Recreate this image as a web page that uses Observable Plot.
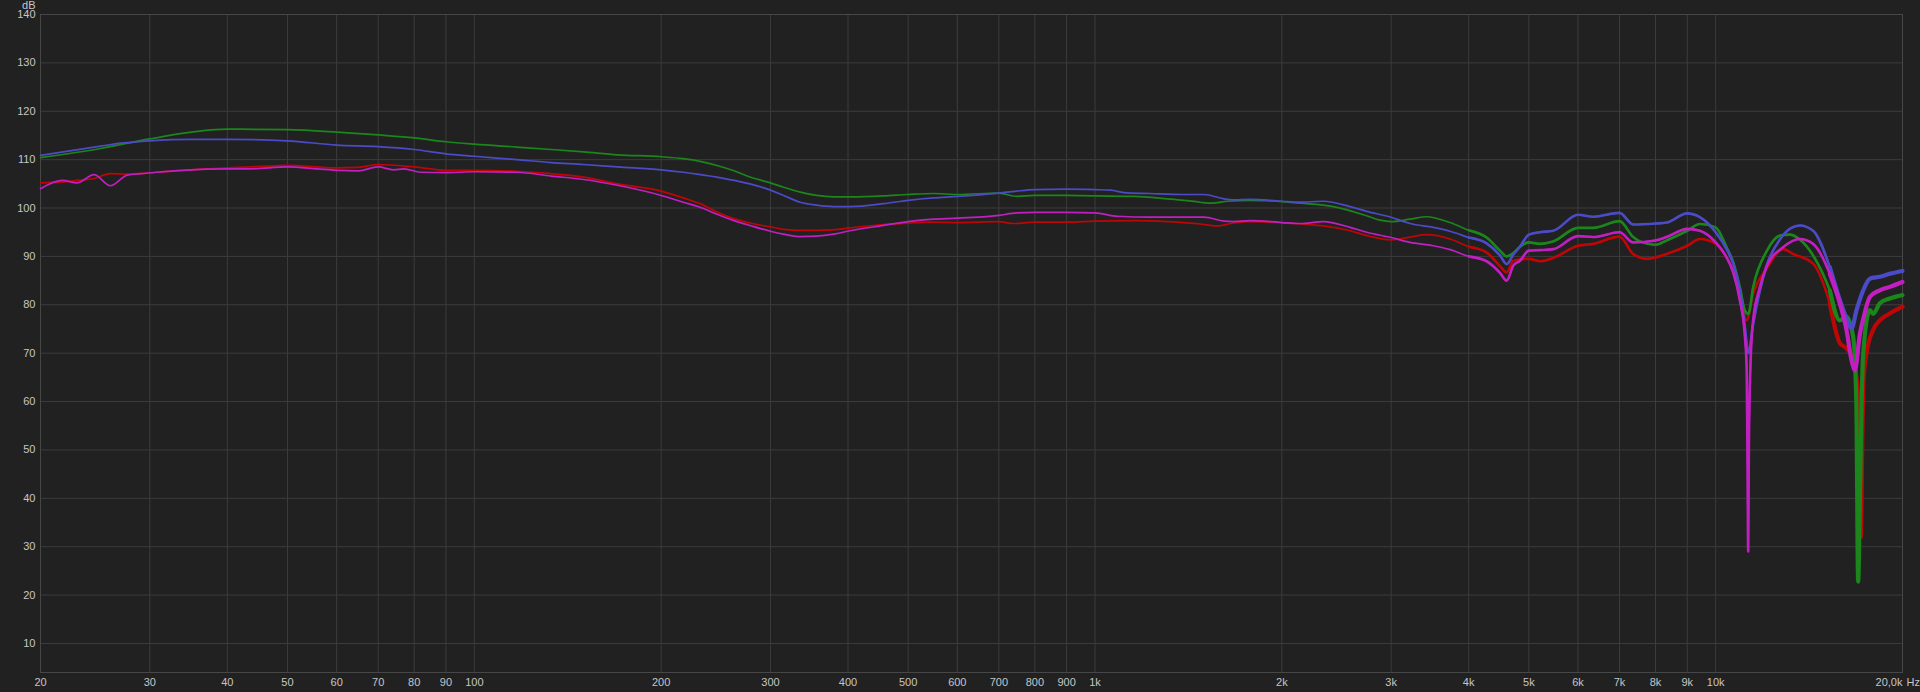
<!DOCTYPE html>
<html>
<head>
<meta charset="utf-8">
<script src="https://cdn.jsdelivr.net/npm/d3@7"></script>
<script src="https://cdn.jsdelivr.net/npm/@observablehq/plot@0.6"></script>
<style>
  html, body { margin: 0; padding: 0; background: #212121; }
  #chart svg { display: block; }
</style>
</head>
<body>
<div id="chart"></div>
<script>
// ---- tick values / labels ----
const xTicks = [20,30,40,50,60,70,80,90,100,200,300,400,500,600,700,800,900,1000,2000,3000,4000,5000,6000,7000,8000,9000,10000];
const xTickLabels = ["20","30","40","50","60","70","80","90","100","200","300","400","500","600","700","800","900","1k","2k","3k","4k","5k","6k","7k","8k","9k","10k"];
const xEndLabel = "20,0k";
const xUnit = "Hz";
const yTicks = [10,20,30,40,50,60,70,80,90,100,110,120,130,140];
const yUnit = "dB";

// ---- series (frequency in Hz, level in dB) ----
const redHz = [20,21.7,22.9,24.4,25.9,27.6,29,30.8,34,40,45,50,60,65,70,80,90,100,117,133,150,170,200,217,234,246,262,278,300,315,335,356,379,403,456,500,549,600,700,739,800,900,1000,1156,1308,1391,1477,1535,1571,1671,1777,2000,2139,2334,2576,2740,3000,3218,3423,3733,4000,4276,4493,4606,4721,5000,5210,5475,6000,6350,7000,7364,7738,8334,9000,9432,10000,10414,10672,10940,11212,11492,12074,12846,13330,14355,15271,15850,16248,16654,16950,17080,17138,17220,17300,17498,17936,18386,19080,20000];
const redDb = [105.2,105.4,105.7,106.1,107.1,107.0,107.1,107.4,107.8,108.3,108.6,108.8,108.3,108.4,109.0,108.5,107.8,107.8,107.6,107.1,106.4,105.0,103.5,102.1,100.6,99.2,97.8,96.9,96.1,95.6,95.4,95.4,95.5,95.9,96.6,96.9,97.1,97.0,97.2,96.8,97.1,97.1,97.3,97.4,97.2,97.0,96.7,96.4,96.3,96.9,97.2,97.0,96.7,96.3,95.3,94.3,93.4,94.0,94.5,93.6,92.0,90.8,88.0,86.7,89.1,89.5,89.0,89.7,92.2,92.6,94.1,90.5,89.5,90.5,92.2,93.6,92.6,89.8,87.1,83.0,76.8,82.3,87.4,91.5,90.5,88.5,80.3,72.1,71.0,68.6,62.0,45.0,32.0,50.0,64.0,70.0,74.8,76.8,78.2,79.6];

const greenHz = [20,25,30,40,50,60,70,80,90,100,117,133,150,170,200,217,234,246,262,278,300,315,335,356,379,403,456,500,549,600,700,748,800,900,1000,1156,1308,1391,1477,1545,1634,1781,1891,2139,2421,2740,2878,3000,3218,3423,3733,4000,4276,4493,4606,4721,4838,5000,5210,5475,6000,6350,7000,7364,7550,8000,8334,9000,9432,10000,10414,10672,10940,11145,11290,11492,12074,12690,13170,13666,14355,15271,15850,16248,16654,16850,16966,17077,17200,17290,17718,17936,18386,19080,20000];
const greenDb = [110.4,112.3,114.3,116.3,116.2,115.7,115.1,114.5,113.7,113.2,112.6,112.1,111.6,111.0,110.6,110.2,109.5,108.8,107.7,106.4,105.2,104.3,103.3,102.6,102.3,102.3,102.5,102.8,103.0,102.8,103.1,102.4,102.6,102.6,102.5,102.4,101.9,101.6,101.2,101.0,101.4,101.6,101.5,101.0,100.3,98.4,97.5,97.2,97.7,98.2,97.0,95.4,93.9,91.2,90.0,90.7,92.0,92.9,92.6,93.1,95.9,95.9,97.3,94.0,93.1,92.4,93.3,95.3,96.7,96.0,91.9,88.8,83.6,78.8,78.1,83.6,91.0,94.3,94.5,93.5,90.2,83.0,76.8,77.5,73.4,60.0,22.8,40.0,62.0,70.0,78.9,78.1,80.3,81.3,82.0];

const blueHz = [20,25,27,30,35,40,50,60,70,80,90,100,117,133,150,170,200,217,234,246,262,278,300,315,335,356,379,403,456,500,549,600,700,748,800,900,1000,1060,1113,1229,1391,1498,1614,1671,1777,2000,2139,2334,2576,2740,3000,3218,3508,3733,4000,4276,4493,4606,4721,4838,5000,5210,5475,6000,6350,7000,7364,8000,8334,9000,9432,10000,10414,10672,10940,11145,11290,11492,12074,12690,13200,13666,14355,15271,15850,16248,16552,16864,17290,17718,18386,19080,20000];
const blueDb = [110.9,112.8,113.4,113.9,114.2,114.2,113.9,113.0,112.7,112.1,111.2,110.7,110.0,109.4,109.0,108.5,107.9,107.4,106.8,106.4,105.7,105.0,103.7,102.6,101.2,100.6,100.3,100.3,100.9,101.6,102.1,102.4,103.1,103.5,103.8,103.9,103.8,103.7,103.2,103.0,102.8,102.8,101.9,101.7,101.8,101.4,101.2,101.4,100.3,99.3,98.1,96.8,96.0,95.2,93.9,92.7,90.2,88.4,90.4,92.0,94.5,95.0,95.3,98.6,98.2,99.0,96.6,96.8,97.0,98.9,98.1,95.0,91.5,88.5,83.0,75.4,70.0,76.0,88.0,93.5,95.8,96.4,95.3,87.8,81.0,77.2,75.1,78.9,83.0,85.4,85.8,86.4,87.0];

const magentaHz = [20,21.7,22.9,24.4,25.9,27.6,29,30.8,34,40,43.6,50,55.8,60,65.1,70,74.1,77,81.8,90,100,117,133,150,170,200,217,234,246,262,278,300,315,335,356,379,403,456,500,549,600,700,748,800,900,1000,1086,1229,1391,1498,1614,1671,1781,2000,2139,2334,2576,2740,3000,3218,3508,3733,4000,4276,4493,4606,4721,4838,5000,5210,5475,6000,6350,7000,7364,8000,8334,9000,9432,10000,10414,10672,10940,11145,11220,11260,11282,11310,11380,11492,11780,12074,12846,13666,14355,15271,15850,16248,16552,16760,17077,17284,17718,18386,19080,20000];
const magentaDb = [104.0,105.7,105.2,106.9,104.6,106.8,107.1,107.4,107.8,108.1,108.1,108.5,108.1,107.8,107.7,108.5,107.9,108.1,107.4,107.3,107.5,107.4,106.6,105.9,104.7,102.6,101.2,99.9,98.7,97.4,96.4,95.2,94.6,94.1,94.2,94.6,95.3,96.4,97.2,97.7,97.9,98.5,99.0,99.1,99.1,99.0,98.3,98.1,98.1,98.1,97.3,97.2,97.4,97.0,96.8,97.2,96.0,95.0,93.9,92.9,92.2,91.4,90.0,89.0,86.6,85.0,88.1,89.1,91.2,91.3,91.5,94.2,94.0,95.0,92.9,93.3,94.0,95.7,95.3,92.9,89.8,86.7,80.9,73.5,67.0,45.0,29.0,50.0,67.7,76.8,83.6,87.8,91.9,93.6,92.6,86.4,80.3,74.8,68.6,66.5,74.0,77.0,81.6,83.0,83.7,84.7];

// ---- styling ----
const bg = "#212121", gridColor = "#3c3c3c", frameColor = "#474747", textColor = "#c6c6c6";
const seriesList = [
  {hz: redHz, db: redDb, color: "#bf0606"},
  {hz: greenHz, db: greenDb, color: "#1b861b"},
  {hz: blueHz, db: blueDb, color: "#4b4bc8"},
  {hz: magentaHz, db: magentaDb, color: "#c21fc2"}
];

const lineMarks = seriesList.flatMap(s => {
  const rows = s.hz.map((f, i) => ({f, db: s.db[i]}));
  return [
    Plot.line(rows, {x: "f", y: "db", stroke: s.color, strokeWidth: 1.7, curve: "monotone-x"}),
    Plot.line(rows.filter(d => d.f >= 4000), {x: "f", y: "db", stroke: s.color, strokeWidth: 2.6, curve: "monotone-x"}),
    Plot.line(rows.filter(d => d.f >= 15000), {x: "f", y: "db", stroke: s.color, strokeWidth: 4.2, curve: "monotone-x"})
  ];
});

const chart = Plot.plot({
  width: 1920,
  height: 692,
  marginLeft: 40,
  marginRight: 18,
  marginTop: 14,
  marginBottom: 20,
  style: {background: bg, color: textColor, fontSize: "11px", fontFamily: "'Liberation Sans', Arial, sans-serif"},
  x: {type: "log", domain: [20, 20000], axis: null},
  y: {domain: [4, 140], axis: null},
  marks: [
    Plot.ruleX(xTicks, {stroke: gridColor, strokeWidth: 1}),
    Plot.ruleY(yTicks, {stroke: gridColor, strokeWidth: 1}),
    Plot.frame({stroke: frameColor}),
    ...lineMarks,
    Plot.text(xTicks, {x: d => d, text: (d, i) => xTickLabels[i], frameAnchor: "bottom", lineAnchor: "middle", dy: 10, textAnchor: "middle", fill: textColor}),
    Plot.text(yTicks, {y: d => d, text: d => String(d), frameAnchor: "left", lineAnchor: "middle", dx: -5, textAnchor: "end", fill: textColor}),
    Plot.text([xEndLabel], {x: 20000, frameAnchor: "bottom", lineAnchor: "middle", dy: 10, textAnchor: "end", fill: textColor}),
    Plot.text([xUnit], {x: 20000, frameAnchor: "bottom", lineAnchor: "middle", dy: 10, dx: 4, textAnchor: "start", fill: textColor}),
    Plot.text([yUnit], {frameAnchor: "top-left", lineAnchor: "middle", dx: -5, dy: -9, textAnchor: "end", fill: textColor})
  ]
});
document.getElementById("chart").append(chart);
</script>
</body>
</html>
